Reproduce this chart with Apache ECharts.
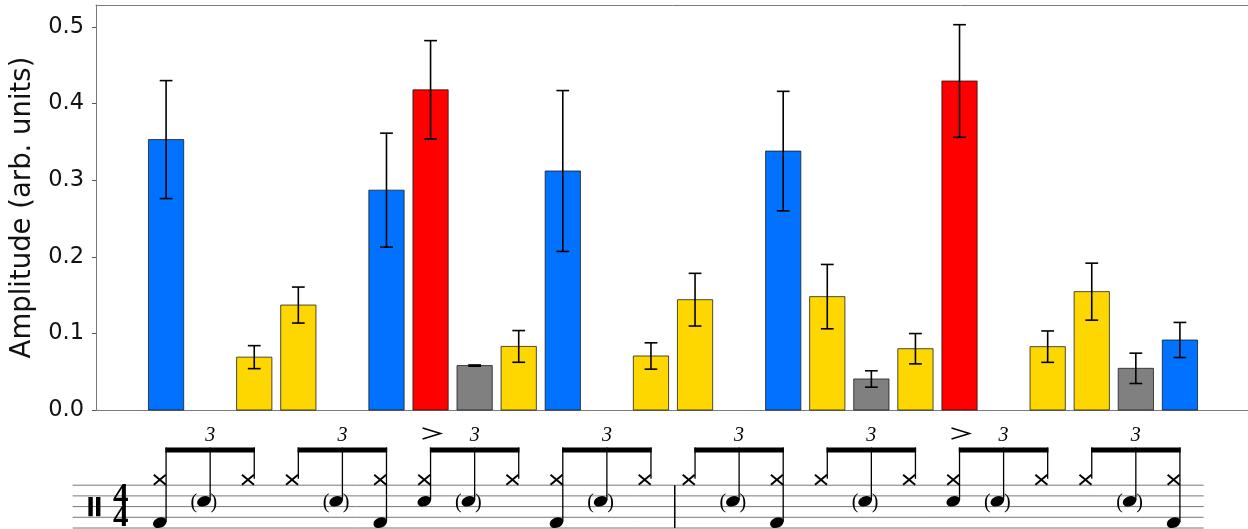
<!DOCTYPE html>
<html>
<head>
<meta charset="utf-8">
<script src="https://cdn.jsdelivr.net/npm/echarts@6/dist/echarts.min.js"></script>
<style>
  html, body { margin: 0; padding: 0; background: #fff; }
  #main { width: 1248px; height: 529px; }
</style>
</head>
<body>
<div id="main"></div>
<script>
// ---------------- data ----------------
const slots = [0, 1, 2, 3, 4, 5, 6, 7, 8, 9, 10, 11, 12, 13, 14, 15, 16, 17, 18, 19, 20, 21, 22, 23];
const strokeKind = ['bass', 'rest', 'hat', 'hat', 'rest', 'bass', 'snare', 'ghost', 'hat', 'bass', 'rest', 'hat',
                    'hat', 'rest', 'bass', 'hat', 'ghost', 'hat', 'snare', 'rest', 'hat', 'hat', 'ghost', 'bass'];
const amplitude = [0.353, null, 0.069, 0.137, null, 0.287, 0.418, 0.058, 0.083, 0.312, null, 0.0705,
                   0.144, null, 0.338, 0.148, 0.0405, 0.080, 0.4295, null, 0.0827, 0.1545, 0.0544, 0.0914];
const amplitudeErr = [0.077, null, 0.015, 0.0235, null, 0.0744, 0.0642, 0.0008, 0.0207, 0.105, null, 0.0172,
                      0.0344, null, 0.078, 0.042, 0.0107, 0.0198, 0.0735, null, 0.0205, 0.0372, 0.0198, 0.0229];
const yTicks = [0, 0.1, 0.2, 0.3, 0.4, 0.5];
const yAxisName = 'Amplitude (arb. units)';

// drum notation (slots of the triplet grid)
const hatSlots = [0, 2, 3, 5, 6, 8, 9, 11, 12, 14, 15, 17, 18, 20, 21, 23];
const bassSlots = [0, 5, 9, 14, 23];
const snareSlots = [6, 18];
const ghostSlots = [1, 4, 7, 10, 13, 16, 19, 22];
const accentSlots = [6, 18];
const tripletStarts = [0, 3, 6, 9, 12, 15, 18, 21];
const tripletLabel = '3';
const barlineAfter = [11];
const staffLines = [0, 1, 2, 3, 4];
const timeSignature = ['4', '4'];

// ---------------- styles / layout constants ----------------
const kindColor = { bass: '#0072ff', snare: '#ff0000', ghost: '#808080', hat: '#ffd700' };
const staffPitch = { hat: 4.5, snare: 2.5, ghost: 2.5, bass: 0.5 };
const BEAM_P = 7.52, TRIPLET_P = 8.64, ACCENT_P = 8.83;
const STAFF_X0 = -2.12, STAFF_X1 = 23.54;
const XMIN = -1.59, XMAX = 24.59;
const SPINE = { show: true, onZero: false, lineStyle: { color: '#7a7a7a', width: 1 } };

const barData = [];
slots.forEach((s, i) => {
  if (amplitude[i] != null) barData.push([s, amplitude[i], amplitudeErr[i], i]);
});

function renderBar(params, api) {
  const x = api.value(0), v = api.value(1);
  const kind = strokeKind[api.value(3)];
  const base = api.coord([x, 0]);
  const top = api.coord([x, v]);
  const w = api.size([0.8, 0])[0];
  return {
    type: 'rect',
    shape: { x: base[0] - w / 2, y: top[1], width: w, height: base[1] - top[1] },
    style: { fill: kindColor[kind], stroke: 'rgba(20,20,20,0.75)', lineWidth: 1 }
  };
}

function renderErr(params, api) {
  const x = api.value(0), v = api.value(1), e = api.value(2);
  const hi = api.coord([x, v + e]);
  const lo = api.coord([x, v - e]);
  const cap = api.size([0.29, 0])[0] / 2;
  const st = { stroke: '#000', lineWidth: 1.6 };
  return {
    type: 'group',
    children: [
      { type: 'line', shape: { x1: hi[0], y1: hi[1], x2: lo[0], y2: lo[1] }, style: st },
      { type: 'line', shape: { x1: hi[0] - cap, y1: hi[1], x2: hi[0] + cap, y2: hi[1] }, style: st },
      { type: 'line', shape: { x1: lo[0] - cap, y1: lo[1], x2: lo[0] + cap, y2: lo[1] }, style: st }
    ]
  };
}

function instrumentsAt(s) {
  const list = [];
  if (hatSlots.includes(s)) list.push('hat');
  if (snareSlots.includes(s)) list.push('snare');
  if (ghostSlots.includes(s)) list.push('ghost');
  if (bassSlots.includes(s)) list.push('bass');
  return list;
}

function renderNotes(params, api) {
  const s = api.value(0);
  const inst = instrumentsAt(s);
  const children = [];
  if (!inst.length) return { type: 'group', children };
  const stemX = api.coord([s, 0])[0];
  inst.forEach(k => {
    const c = api.coord([s, staffPitch[k]]);
    const hx = stemX - 6.3;
    if (k === 'hat') {
      const st = { stroke: '#000', lineWidth: 1.9 };
      children.push({ type: 'line', shape: { x1: hx - 6, y1: c[1] - 5, x2: hx + 6, y2: c[1] + 5 }, style: st });
      children.push({ type: 'line', shape: { x1: hx - 6, y1: c[1] + 5, x2: hx + 6, y2: c[1] - 5 }, style: st });
    } else {
      children.push({
        type: 'ellipse', x: hx, y: c[1], rotation: 0.4,
        shape: { cx: 0, cy: 0, rx: 7, ry: 5 },
        style: { fill: '#000' }
      });
      if (k === 'ghost') {
        const ts = { fontFamily: 'Liberation Serif', fontSize: 20, fill: '#000', align: 'center', verticalAlign: 'middle' };
        children.push({ type: 'text', x: hx - 10, y: c[1] + 1.5, style: Object.assign({ text: '(' }, ts) });
        children.push({ type: 'text', x: hx + 10, y: c[1] + 1.5, style: Object.assign({ text: ')' }, ts) });
      }
    }
  });
  const lowP = Math.min.apply(null, inst.map(k => staffPitch[k]));
  const yLow = api.coord([s, lowP])[1];
  const yTop = api.coord([s, BEAM_P])[1];
  children.push({ type: 'line', shape: { x1: stemX, y1: yTop, x2: stemX, y2: yLow - 1 }, style: { stroke: '#000', lineWidth: 1.3 } });
  if (accentSlots.includes(s)) {
    const a = api.coord([s, ACCENT_P]);
    const ax = a[0] + 1;
    children.push({
      type: 'polyline',
      shape: { points: [[ax - 9, a[1] - 5.5], [ax + 9, a[1]], [ax - 9, a[1] + 5.5]] },
      style: { stroke: '#000', lineWidth: 1.5, fill: null }
    });
  }
  return { type: 'group', children };
}

function renderBeam(params, api) {
  const s = api.value(0);
  const a = api.coord([s, BEAM_P]);
  const b = api.coord([s + 2, BEAM_P]);
  const m = api.coord([s + 1, TRIPLET_P]);
  return {
    type: 'group',
    children: [
      { type: 'rect', shape: { x: a[0] - 0.7, y: a[1], width: b[0] - a[0] + 1.4, height: 5 }, style: { fill: '#000' } },
      { type: 'text', x: m[0], y: m[1], style: { text: tripletLabel, fontFamily: 'Liberation Serif', fontStyle: 'italic', fontSize: 20, fill: '#000', align: 'center', verticalAlign: 'middle' } }
    ]
  };
}

function renderStaff(params, api) {
  const p = api.value(1);
  const a = api.coord([STAFF_X0, p]);
  const b = api.coord([STAFF_X1, p]);
  return { type: 'line', shape: { x1: a[0], y1: a[1], x2: b[0], y2: b[1] }, style: { stroke: '#777', lineWidth: 1 } };
}

function renderSigns(params, api) {
  const children = [];
  // percussion clef
  [-1.713, -1.54].forEach(xv => {
    const t = api.coord([xv, 2.9]);
    const b = api.coord([xv, 1.1]);
    children.push({ type: 'rect', shape: { x: t[0] - 2.2, y: t[1], width: 4.4, height: b[1] - t[1] }, style: { fill: '#000' } });
  });
  // time signature
  [3, 1].forEach((p, i) => {
    const c = api.coord([-1.03, p]);
    children.push({ type: 'text', x: c[0], y: c[1] + 1, style: { text: timeSignature[i], fontFamily: 'Liberation Serif', fontWeight: 'bold', fontSize: 31, fill: '#000', align: 'center', verticalAlign: 'middle' } });
  });
  // bar lines
  barlineAfter.forEach(s => {
    const t = api.coord([s + 0.54, 4]);
    const b = api.coord([s + 0.54, 0]);
    children.push({ type: 'line', shape: { x1: t[0], y1: t[1], x2: b[0], y2: b[1] }, style: { stroke: '#000', lineWidth: 1.5 } });
  });
  return { type: 'group', children };
}

const chart = echarts.init(document.getElementById('main'), null, { renderer: 'canvas' });
chart.setOption({
  animation: false,
  backgroundColor: '#fff',
  grid: [
    { left: 96, top: 5, width: 1154, height: 405, outerBoundsMode: 'none', containLabel: false },
    { left: 96, top: 421, width: 1154, height: 107, outerBoundsMode: 'none', containLabel: false }
  ],
  xAxis: [
    { gridIndex: 0, type: 'value', min: XMIN, max: XMAX, position: 'bottom', axisLine: SPINE, axisTick: { show: false }, axisLabel: { show: false }, splitLine: { show: false } },
    { gridIndex: 1, type: 'value', min: XMIN, max: XMAX, show: false, axisLine: { onZero: false } },
    { gridIndex: 0, type: 'value', min: XMIN, max: XMAX, position: 'top', axisLine: SPINE, axisTick: { show: false }, axisLabel: { show: false }, splitLine: { show: false } }
  ],
  yAxis: [
    {
      gridIndex: 0, type: 'value', min: 0, max: 0.5287, interval: 0.1,
      axisLine: SPINE,
      axisTick: { show: true, length: 4, customValues: yTicks, lineStyle: { color: '#555' } },
      axisLabel: { customValues: yTicks, formatter: v => v.toFixed(1), fontSize: 22.5, fontFamily: 'DejaVu Sans', color: '#111', margin: 12 },
      splitLine: { show: false },
      name: yAxisName, nameLocation: 'middle', nameGap: 48,
      nameTextStyle: { fontSize: 27.5, fontFamily: 'DejaVu Sans', color: '#111' }
    },
    { gridIndex: 1, type: 'value', min: 0, max: 10, show: false, axisLine: { onZero: false } }
  ],
  series: [
    { type: 'custom', xAxisIndex: 0, yAxisIndex: 0, data: barData, renderItem: renderBar, encode: { x: 0, y: 1 }, z: 2 },
    { type: 'custom', xAxisIndex: 0, yAxisIndex: 0, data: barData, renderItem: renderErr, encode: { x: 0, y: 1 }, z: 3, clip: false },
    { type: 'custom', xAxisIndex: 1, yAxisIndex: 1, data: staffLines.map(p => [0, p]), renderItem: renderStaff, encode: { x: 0, y: 1 }, clip: false, z: 1 },
    { type: 'custom', xAxisIndex: 1, yAxisIndex: 1, data: [[0, 2]], renderItem: renderSigns, encode: { x: 0, y: 1 }, clip: false, z: 2 },
    { type: 'custom', xAxisIndex: 1, yAxisIndex: 1, data: slots.map(s => [s, 4]), renderItem: renderNotes, encode: { x: 0, y: 1 }, clip: false, z: 3 },
    { type: 'custom', xAxisIndex: 1, yAxisIndex: 1, data: tripletStarts.map(s => [s, BEAM_P]), renderItem: renderBeam, encode: { x: 0, y: 1 }, clip: false, z: 3 }
  ]
});
</script>
</body>
</html>
